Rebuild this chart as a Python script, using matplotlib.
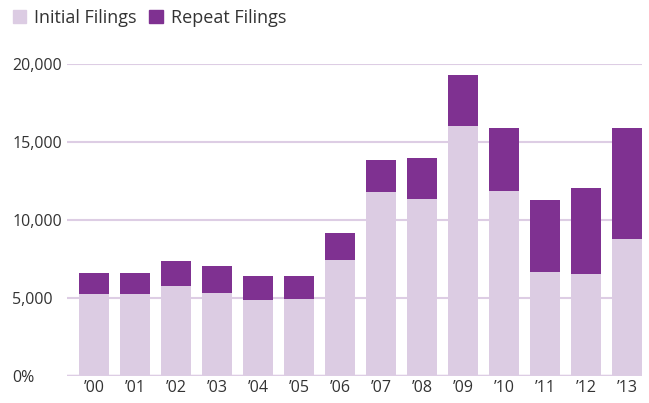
import matplotlib.pyplot as plt
import matplotlib.patches as mpatches
from matplotlib.ticker import FuncFormatter

years = ["\u201900", "\u201901", "\u201902", "\u201903", "\u201904", "\u201905", "\u201906",
         "\u201907", "\u201908", "\u201909", "\u201910", "\u201911", "\u201912", "\u201913"]
initial = [5260, 5260, 5770, 5320, 4870, 4940, 7440, 11800, 11350, 16000, 11860, 6670, 6540, 8780]
total = [6600, 6600, 7370, 7050, 6410, 6410, 9170, 13850, 13970, 19300, 15900, 11280, 12050, 15900]
repeat = [t - i for t, i in zip(total, initial)]

light = "#dccce3"
dark = "#7f3191"
grid_c = "#ddcde4"

plt.rcParams['font.family'] = ['Open Sans', 'DejaVu Sans']

fig = plt.figure(figsize=(6.49, 4.03), dpi=100)
ax = fig.add_axes([67 / 649, 1 - 376 / 403, (642 - 67) / 649, (376 - 64) / 403])

x = list(range(len(years)))
ax.bar(x, initial, width=0.73, color=light, zorder=2)
ax.bar(x, repeat, bottom=initial, width=0.73, color=dark, zorder=2)

ax.set_xlim(-0.66, 13.37)
ax.set_ylim(0, 20000)
ax.set_yticks([0, 5000, 10000, 15000, 20000])
ax.yaxis.set_major_formatter(FuncFormatter(lambda v, p: "0%" if v == 0 else f"{int(v):,}"))
ax.grid(axis='y', color=grid_c, linewidth=1.5, zorder=0)
ax.axhline(0, color=grid_c, linewidth=2.5, zorder=3)

for s in ax.spines.values():
    s.set_visible(False)
ax.tick_params(axis='y', length=0, labelsize=11.5, labelcolor="#333333", pad=39.5)
for lab in ax.get_yticklabels():
    lab.set_horizontalalignment('left')
ax.set_xticks(x)
ax.set_xticklabels(years)
ax.tick_params(axis='x', length=0, labelsize=11.5, labelcolor="#333333", pad=3)

handles = [mpatches.Patch(color=light, label="Initial Filings"),
           mpatches.Patch(color=dark, label="Repeat Filings")]
fig.legend(handles=handles, loc='upper left', bbox_to_anchor=(0.0, 1.01), ncol=2,
           frameon=False, fontsize=13, handlelength=0.75, handleheight=0.75,
           handletextpad=0.45, columnspacing=0.7, labelcolor="#333333",
           borderaxespad=0.3)

fig.savefig("out.png", dpi=100)
